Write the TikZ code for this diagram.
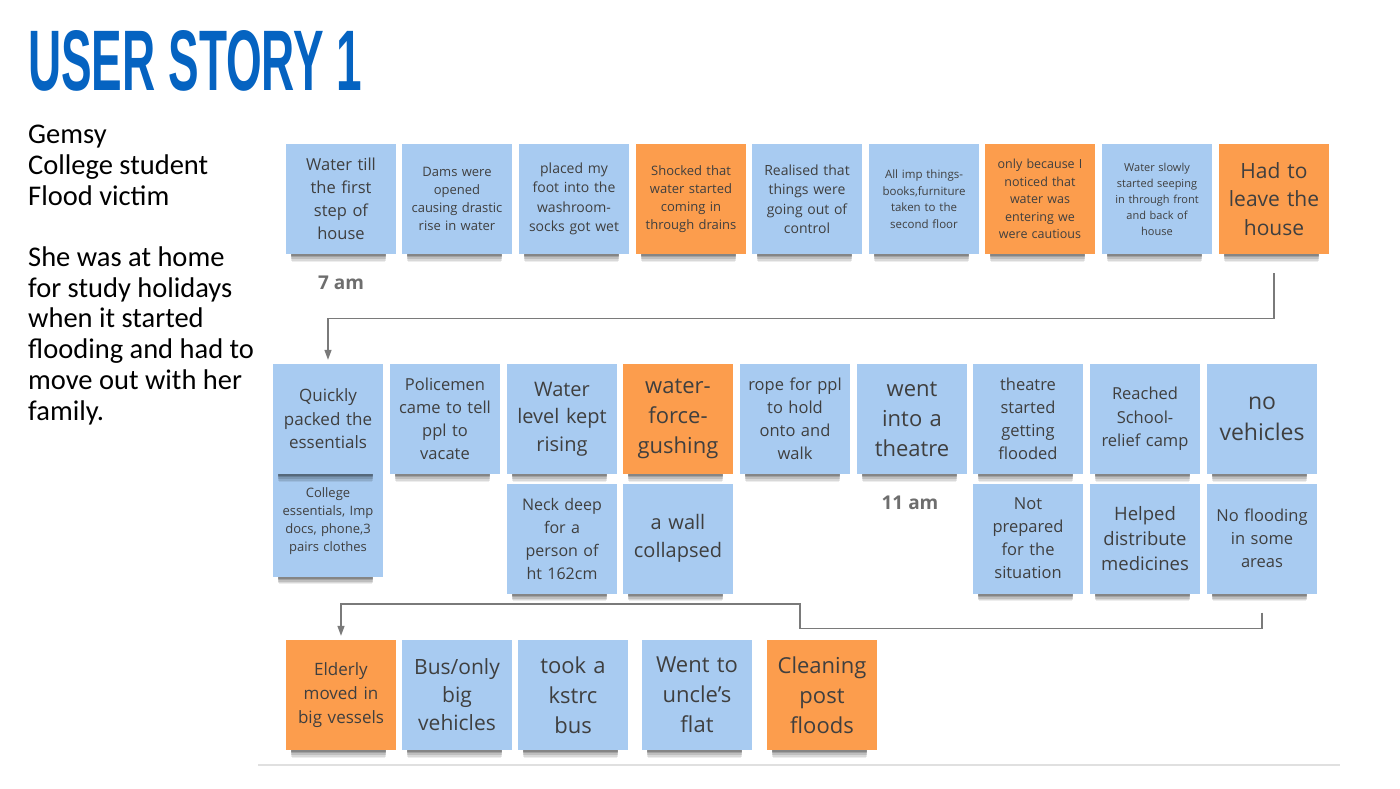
\documentclass[tikz,border=0pt]{standalone}
\usepackage{fontspec}
\usepackage{graphicx}
\setmainfont{Open Sans}
\newfontfamily\leftfont{Carlito}
\newfontfamily\titlefont{Liberation Sans}
\usetikzlibrary{arrows.meta, shadows}
\definecolor{nblue}{HTML}{A8CBF1}
\definecolor{norange}{HTML}{FC9D4D}
\definecolor{ntext}{HTML}{3F3F3F}
\definecolor{tblue}{HTML}{0563C1}
\definecolor{lgray}{HTML}{7A7A7A}
\definecolor{tgray}{HTML}{6E6E6E}
\newcommand{\fz}[2]{\fontsize{#1}{#2}\selectfont}

\begin{document}
\begin{tikzpicture}[x=1pt, y=-1pt,
  note/.style={minimum width=110pt, minimum height=110pt, text width=104pt,
    inner sep=3pt, align=center, text=ntext,
    general shadow={fill=black, opacity=0.07, shadow xshift=-3pt, shadow yshift=-19pt, shadow scale=0.85},
    general shadow={fill=black, opacity=0.09, shadow xshift=-3pt, shadow yshift=-17pt, shadow scale=0.86},
    general shadow={fill=black, opacity=0.12, shadow xshift=-3pt, shadow yshift=-15pt, shadow scale=0.86},
    general shadow={fill=black, opacity=0.15, shadow xshift=-3pt, shadow yshift=-13pt, shadow scale=0.86},
    general shadow={fill=black, opacity=0.18, shadow xshift=-3pt, shadow yshift=-11pt, shadow scale=0.87}},
  bnote/.style={note, fill=nblue},
  onote/.style={note, fill=norange},
  conn/.style={draw=lgray, line width=1.4pt, -{Triangle[length=10pt, width=7pt]}},
  clock/.style={font=\bfseries\fz{19}{23}, text=tgray}]
  \useasboundingbox (0,0) rectangle (1400,788);

  % title and persona
  \node[anchor=north west, inner sep=0, text=tblue] (title) at (28,30)
    {\resizebox{334pt}{60pt}{\titlefont\bfseries USER STORY 1}};
  \node[anchor=north west, inner sep=0, align=left, font=\leftfont\fz{28.5}{30.7}] (who) at (28,125)
    {Gemsy\\College student\\Flood victim\\[30.7pt]She was at home\\for study holidays\\when it started\\flooding and had to\\move out with her\\family.};

  % Row 1
  \node[bnote, font=\fz{16.5}{23}] (a1) at (341,199) {Water till\\the first\\step of\\house};
  \node[bnote, font=\fz{13}{18}] (a2) at (457,199) {Dams were\\opened\\causing drastic\\rise in water};
  \node[bnote, font=\fz{14}{19.5}] (a3) at (574,199) {placed my\\foot into the\\washroom-\\socks got wet};
  \node[onote, font=\fz{13}{18}] (a4) at (691,199) {Shocked that\\water started\\coming in\\through drains};
  \node[bnote, font=\fz{14}{19.5}] (a5) at (807,199) {Realised that\\things were\\going out of\\control};
  \node[bnote, font=\fz{11.5}{16.5}] (a6) at (924,199) {All imp things-\\books,furniture\\taken to the\\second floor};
  \node[onote, font=\fz{12.5}{17.5}] (a7) at (1040,199) {only because I\\noticed that\\water was\\entering we\\were cautious};
  \node[bnote, font=\fz{11}{16}] (a8) at (1157,199) {Water slowly\\started seeping\\in through front\\and back of\\house};
  \node[onote, font=\fz{21}{28.5}] (a9) at (1274,199) {Had to\\leave the\\house};
  \node[clock] (t7) at (341,283) {7 am};

  % Row 2, lower notes first so the upper shadows fall on them
  \node[bnote, font=\fz{13}{18}] (b1lo) at (328,521.5) {College\\essentials, Imp\\docs, phone,3\\pairs clothes};
  \node[bnote, font=\fz{16}{23}] (b3lo) at (562,538.5) {Neck deep\\for a\\person of\\ht 162cm};
  \node[bnote, font=\fz{20}{28}] (b4lo) at (678,538.5) {a wall\\collapsed};
  \node[bnote, font=\fz{16.5}{23}] (b7lo) at (1028,538.5) {Not\\prepared\\for the\\situation};
  \node[bnote, font=\fz{18.5}{25}] (b8lo) at (1145,538.5) {Helped\\distribute\\medicines};
  \node[bnote, font=\fz{16.5}{23}] (b9lo) at (1262,538.5) {No flooding\\in some\\areas};

  \node[bnote, font=\fz{17}{23.5}] (b1) at (328,419) {Quickly\\packed the\\essentials};
  \node[bnote, font=\fz{16.5}{23}] (b2) at (445,419) {Policemen\\came to tell\\ppl to\\vacate};
  \node[bnote, font=\fz{20}{27.5}] (b3) at (562,419) {Water\\level kept\\rising};
  \node[onote, font=\fz{22}{30}] (b4) at (678,419) {water-\\force-\\gushing};
  \node[bnote, font=\fz{16.5}{23}] (b5) at (795,419) {rope for ppl\\to hold\\onto and\\walk};
  \node[bnote, font=\fz{22}{30}] (b6) at (912,419) {went\\into a\\theatre};
  \node[bnote, font=\fz{16.5}{23}] (b7) at (1028,419) {theatre\\started\\getting\\flooded};
  \node[bnote, font=\fz{16.5}{23.5}] (b8) at (1145,419) {Reached\\School-\\relief camp};
  \node[bnote, font=\fz{23}{31}] (b9) at (1262,419) {no\\vehicles};
  \node[clock] (t11) at (910,503) {11 am};

  % Row 3
  \node[onote, font=\fz{17}{24}] (d1) at (341,695) {Elderly\\moved in\\big vessels};
  \node[bnote, font=\fz{21}{28}] (d2) at (457,695) {Bus/only\\big\\vehicles};
  \node[bnote, font=\fz{22}{30}] (d3) at (573,695) {took a\\kstrc\\bus};
  \node[bnote, font=\fz{22}{30}] (d4) at (697,695) {Went to\\uncle's\\flat};
  \node[onote, font=\fz{22}{30}] (d5) at (822,695) {Cleaning\\post\\floods};

  % connectors between rows
  \coordinate (jog) at (800,604);
  \draw[conn] ([yshift=-19pt]a9.south) -- ++(0,45) -| ([yshift=4pt]b1.north);
  \draw[conn] ([yshift=-19pt]b9lo.south) -- ++(0,16) -| (jog) -| ([yshift=4pt]d1.north);

  \draw[line width=1.5pt, draw=black!12] (258,765) -- (1340,765);
\end{tikzpicture}
\end{document}
